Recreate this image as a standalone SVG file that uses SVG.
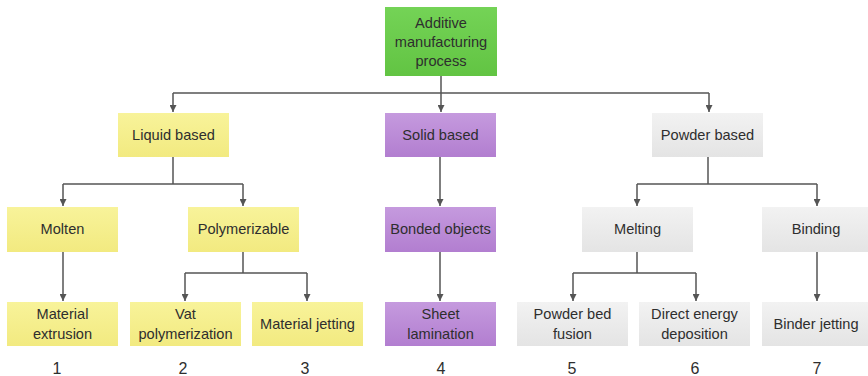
<svg xmlns="http://www.w3.org/2000/svg" width="868" height="376" viewBox="0 0 868 376">
<defs>
<linearGradient id="gG" x1="0" y1="0" x2="0" y2="1"><stop offset="0" stop-color="#74d356"/><stop offset="1" stop-color="#62c443"/></linearGradient>
<linearGradient id="gY" x1="0" y1="0" x2="0" y2="1"><stop offset="0" stop-color="#f8f39a"/><stop offset="1" stop-color="#f2ea80"/></linearGradient>
<linearGradient id="gP" x1="0" y1="0" x2="0" y2="1"><stop offset="0" stop-color="#c59ade"/><stop offset="1" stop-color="#b27ed0"/></linearGradient>
<linearGradient id="gS" x1="0" y1="0" x2="0" y2="1"><stop offset="0" stop-color="#f2f2f2"/><stop offset="1" stop-color="#e4e4e4"/></linearGradient>
<marker id="arr" viewBox="0 0 10 10" refX="10" refY="5" markerWidth="7" markerHeight="7" orient="auto" markerUnits="userSpaceOnUse"><path d="M0,0 L10,5 L0,10 z" fill="#555"/></marker>
</defs>
<style>
text{font-family:"Liberation Sans",Arial,sans-serif;font-size:14.6px;fill:#2e2e2e;text-anchor:middle}
.num{font-size:16px}
.g{fill:url(#gG)} .y{fill:url(#gY)} .p{fill:url(#gP)} .s{fill:url(#gS)}
.c{fill:none;stroke:#555;stroke-width:1.5}
.a{marker-end:url(#arr)}
</style>
<rect width="868" height="376" fill="#fff"/>
<g id="connectors">
<path class="c" d="M441,76 V93 M173,93 H709"/>
<path class="c a" d="M173,93 V112"/>
<path class="c a" d="M441,93 V112"/>
<path class="c a" d="M709,93 V112"/>
<path class="c" d="M173,157 V184 M63,184 H243"/>
<path class="c a" d="M63,184 V206"/>
<path class="c a" d="M243,184 V206"/>
<path class="c a" d="M63,252 V301"/>
<path class="c" d="M243,252 V273 M185,273 H307"/>
<path class="c a" d="M185,273 V301"/>
<path class="c a" d="M307,273 V301"/>
<path class="c a" d="M440,157 V206"/>
<path class="c a" d="M440,252 V301"/>
<path class="c" d="M708,157 V184 M637,184 H817"/>
<path class="c a" d="M637,184 V206"/>
<path class="c a" d="M817,184 V206"/>
<path class="c" d="M637,252 V273 M573,273 H696"/>
<path class="c a" d="M573,273 V301"/>
<path class="c a" d="M696,273 V301"/>
<path class="c a" d="M817,252 V301"/>
</g>
<g id="n-am"><rect class="g" x="385" y="7" width="112" height="69"/><text x="441" y="28">Additive</text><text x="441" y="47">manufacturing</text><text x="441" y="66">process</text></g>
<g id="n-liquid"><rect class="y" x="118" y="113" width="111" height="44"/><text x="173.5" y="140">Liquid based</text></g>
<g id="n-solid"><rect class="p" x="385" y="113" width="111" height="44"/><text x="440.5" y="140">Solid based</text></g>
<g id="n-powder"><rect class="s" x="652" y="113" width="111" height="44"/><text x="707.5" y="140">Powder based</text></g>
<g id="n-molten"><rect class="y" x="7" y="207" width="111" height="45"/><text x="62.5" y="234">Molten</text></g>
<g id="n-poly"><rect class="y" x="188" y="207" width="111" height="45"/><text x="243.5" y="234">Polymerizable</text></g>
<g id="n-bonded"><rect class="p" x="385" y="207" width="111" height="45"/><text x="440.5" y="234">Bonded objects</text></g>
<g id="n-melting"><rect class="s" x="582" y="207" width="111" height="45"/><text x="637.5" y="234">Melting</text></g>
<g id="n-binding"><rect class="s" x="762" y="207" width="106" height="45"/><text x="816" y="234">Binding</text></g>
<g id="n-extr"><rect class="y" x="7" y="302" width="111" height="44"/><text x="62.5" y="319">Material</text><text x="62.5" y="339">extrusion</text></g>
<g id="n-vat"><rect class="y" x="130" y="302" width="111" height="44"/><text x="185.5" y="319">Vat</text><text x="185.5" y="339">polymerization</text></g>
<g id="n-mj"><rect class="y" x="252" y="302" width="111" height="44"/><text x="307.5" y="329">Material jetting</text></g>
<g id="n-sheet"><rect class="p" x="385" y="302" width="111" height="44"/><text x="440.5" y="319">Sheet</text><text x="440.5" y="339">lamination</text></g>
<g id="n-pbf"><rect class="s" x="517" y="302" width="111" height="44"/><text x="572.5" y="319">Powder bed</text><text x="572.5" y="339">fusion</text></g>
<g id="n-ded"><rect class="s" x="639" y="302" width="111" height="44"/><text x="694.5" y="319">Direct energy</text><text x="694.5" y="339">deposition</text></g>
<g id="n-bj"><rect class="s" x="762" y="302" width="106" height="44"/><text x="816" y="329">Binder jetting</text></g>
<g id="numbers">
<text class="num" x="57" y="374">1</text>
<text class="num" x="183" y="374">2</text>
<text class="num" x="305" y="374">3</text>
<text class="num" x="441" y="374">4</text>
<text class="num" x="572" y="374">5</text>
<text class="num" x="695" y="374">6</text>
<text class="num" x="817" y="374">7</text>
</g>
</svg>
